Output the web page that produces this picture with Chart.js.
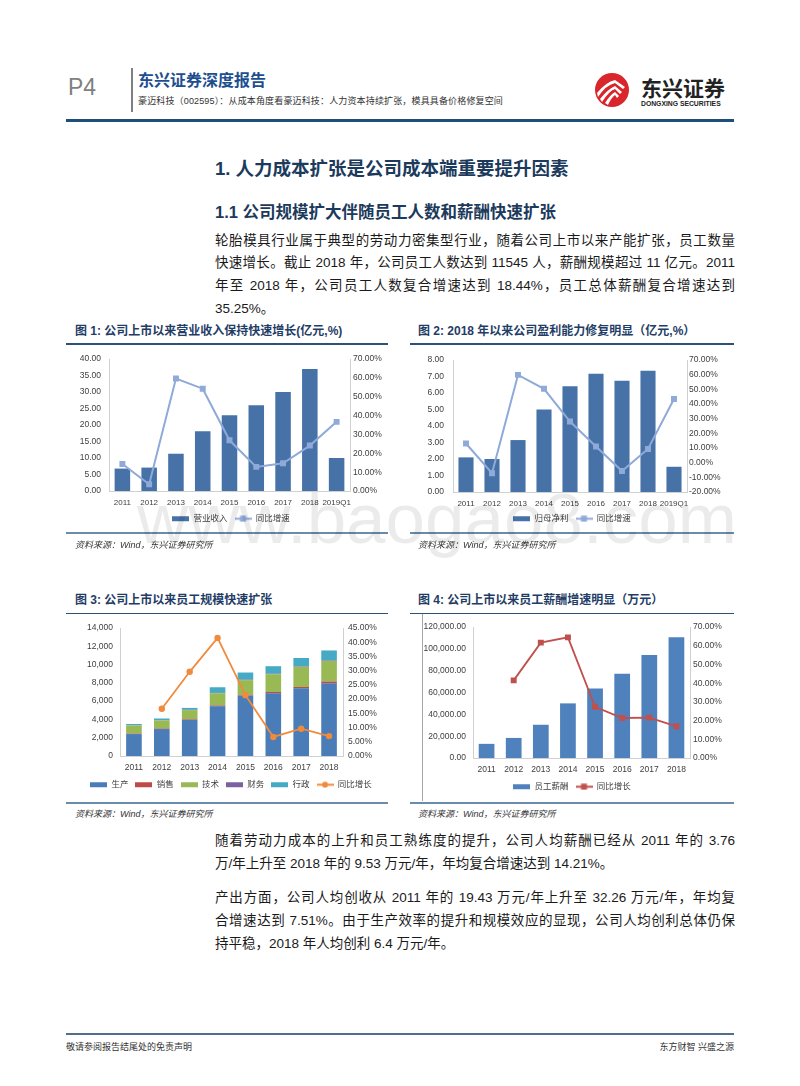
<!DOCTYPE html>
<html>
<head>
<meta charset="utf-8">
<script src="https://cdn.jsdelivr.net/npm/chart.js"></script>
<style>
body { margin: 0; background: #fff; }
#page { position: relative; width: 800px; height: 1086px; overflow: hidden;
        font-family: "Liberation Sans", "Noto Sans CJK SC", sans-serif; color: #1a1a1a; }
.a { position: absolute; white-space: nowrap; }
.ln { position: absolute; }
.p { position: absolute; left: 215px; width: 520px; font-size: 13.5px; height: 23px; line-height: 23px; overflow: hidden; }
.j { text-align: justify; text-align-last: justify; }
.cap { font-size: 12px; font-weight: bold; color: #1f3d66; line-height: 12px; }
.src { font-size: 9px; font-style: italic; color: #333; line-height: 9px; }
canvas { position: absolute; }
</style>
</head>
<body>
<div id="page">
  <!-- header -->
  <div class="a" style="left:68px;top:76px;font-size:23px;line-height:23px;color:#7f7f7f;">P4</div>
  <div class="ln" style="left:131px;top:68px;width:1.5px;height:44px;background:#808080;"></div>
  <div class="a" style="left:138px;top:73px;font-size:16px;line-height:16px;font-weight:bold;color:#1d4f8f;">东兴证券深度报告</div>
  <div class="a" style="left:138px;top:96.5px;font-size:9px;line-height:9px;color:#333;letter-spacing:0.15px;">豪迈科技（002595）：从成本角度看豪迈科技：人力资本持续扩张，模具具备价格修复空间</div>
  <svg class="a" style="left:594px;top:72px" width="36" height="36" viewBox="0 0 36 36">
    <circle cx="18" cy="18" r="17" fill="#d8262c"/>
    <path d="M3 21 Q12 10 21 8 L31 15 L29 17 L21 11 Q12 13 4 25 Z" fill="#fff"/>
    <path d="M6 27 Q14 17 21 14 L28 20 L26 22 L21 17 Q15 19 8 30 Z" fill="#fff"/>
    <path d="M11 31 Q16 23 21 20 L25 24 L23 26 L21 23 Q17 26 14 33 Z" fill="#fff"/>
  </svg>
  <div class="a" style="left:641px;top:78px;font-size:21px;line-height:21px;font-weight:bold;color:#222;">东兴证券</div>
  <div class="a" style="left:641px;top:100px;font-size:6.8px;line-height:7px;font-weight:bold;color:#222;">DONGXING SECURITIES</div>
  <div class="ln" style="left:66px;top:119px;width:668px;height:3px;background:#1f4e79;"></div>

  <!-- headings and text -->
  <div class="a" style="left:215px;top:158.5px;font-size:18.5px;line-height:20px;font-weight:bold;color:#1c3a5c;">1. 人力成本扩张是公司成本端重要提升因素</div>
  <div class="a" style="left:215px;top:202.5px;font-size:16.5px;line-height:18px;font-weight:bold;color:#1c3a5c;">1.1 公司规模扩大伴随员工人数和薪酬快速扩张</div>

  <div class="p j" style="top:228.5px;">轮胎模具行业属于典型的劳动力密集型行业，随着公司上市以来产能扩张，员工数量</div>
  <div class="p j" style="top:251.2px;">快速增长。截止 2018 年，公司员工人数达到 11545 人，薪酬规模超过 11 亿元。2011</div>
  <div class="p j" style="top:273.9px;">年至 2018 年，公司员工人数复合增速达到 18.44%，员工总体薪酬复合增速达到</div>
  <div class="p" style="top:296.6px;">35.25%。</div>

  <!-- figure 1 / 2 frames -->
  <div class="a cap" style="left:75px;top:325px;">图 1: 公司上市以来营业收入保持快速增长(亿元,%)</div>
  <div class="a cap" style="left:418px;top:325px;">图 2: 2018 年以来公司盈利能力修复明显（亿元,%）</div>
  <div class="ln" style="left:66px;top:343px;width:322px;height:1.5px;background:#2f5077;"></div>
  <div class="ln" style="left:410px;top:343px;width:324px;height:1.5px;background:#2f5077;"></div>
  <canvas id="c1" width="322" height="187" style="left:70px;top:346px;"></canvas>
  <canvas id="c2" width="324" height="187" style="left:410px;top:346px;"></canvas>
  <div class="ln" style="left:66px;top:532px;width:322px;height:2px;background:#6b8bab;"></div>
  <div class="ln" style="left:410px;top:532px;width:324px;height:2px;background:#6b8bab;"></div>
  <div class="a src" style="left:75px;top:540.5px;">资料来源：Wind，东兴证券研究所</div>
  <div class="a src" style="left:418px;top:540.5px;">资料来源：Wind，东兴证券研究所</div>

  <!-- figure 3 / 4 frames -->
  <div class="a cap" style="left:75px;top:594px;">图 3: 公司上市以来员工规模快速扩张</div>
  <div class="a cap" style="left:418px;top:594px;">图 4: 公司上市以来员工薪酬增速明显（万元）</div>
  <div class="ln" style="left:66px;top:612.5px;width:322px;height:1.5px;background:#2f5077;"></div>
  <div class="ln" style="left:410px;top:612.5px;width:324px;height:1.5px;background:#2f5077;"></div>
  <div class="ln" style="left:421.5px;top:614px;width:1px;height:187px;background:#a6a6a6;"></div>
  <canvas id="c3" width="322" height="184" style="left:70px;top:615px;"></canvas>
  <canvas id="c4" width="324" height="186" style="left:410px;top:615px;"></canvas>
  <div class="ln" style="left:66px;top:801.5px;width:322px;height:2px;background:#6b8bab;"></div>
  <div class="ln" style="left:410px;top:801.5px;width:324px;height:2px;background:#6b8bab;"></div>
  <div class="a src" style="left:75px;top:809.5px;">资料来源：Wind，东兴证券研究所</div>
  <div class="a src" style="left:418px;top:809.5px;">资料来源：Wind，东兴证券研究所</div>

  <div class="p j" style="top:828.5px;">随着劳动力成本的上升和员工熟练度的提升，公司人均薪酬已经从 2011 年的 3.76</div>
  <div class="p" style="top:851.5px;">万/年上升至 2018 年的 9.53 万元/年，年均复合增速达到 14.21%。</div>
  <div class="p j" style="top:885.5px;">产出方面，公司人均创收从 2011 年的 19.43 万元/年上升至 32.26 万元/年，年均复</div>
  <div class="p j" style="top:908.5px;">合增速达到 7.51%。由于生产效率的提升和规模效应的显现，公司人均创利总体仍保</div>
  <div class="p" style="top:931.5px;">持平稳，2018 年人均创利 6.4 万元/年。</div>

  <!-- footer -->
  <div class="ln" style="left:66px;top:1033px;width:668px;height:2px;background:#4f6f8f;"></div>
  <div class="a" style="left:66px;top:1042.5px;font-size:9px;line-height:9px;color:#333;">敬请参阅报告结尾处的免责声明</div>
  <div class="a" style="right:66px;top:1042.5px;font-size:9px;line-height:9px;color:#333;">东方财智 兴盛之源</div>

  <!-- watermark -->
  <div class="a" style="left:137px;top:486px;font-size:71px;line-height:66px;color:rgba(0,0,0,0.08);pointer-events:none;z-index:5;">www.baogao8.com</div>
</div>

<script>
// figure 1 / 2
const years9 = ['2011', '2012', '2013', '2014', '2015', '2016', '2017', '2018', '2019Q1'];
const revenue = [6.8, 7.1, 11.3, 18.1, 23.0, 26.0, 30.0, 37.0, 10.0];
const revenueYoY = [14.3, 3.6, 59.7, 54.3, 26.9, 12.8, 14.7, 24.1, 36.7];
const netProfit = [2.1, 2.0, 3.15, 5.0, 6.42, 7.17, 6.74, 7.36, 1.53];
const netProfitYoY = [13.1, -7.2, 59.9, 50.4, 28.1, 11.1, -5.7, 9.4, 43.4];

// figure 3 / 4
const years8 = ['2011', '2012', '2013', '2014', '2015', '2016', '2017', '2018'];
const staffProd = [2400, 2950, 3950, 5450, 6600, 6850, 7400, 7950];
const staffSales = [50, 60, 70, 80, 100, 150, 150, 200];
const staffTech = [900, 880, 1000, 1330, 1600, 1950, 2200, 2250];
const staffFin = [20, 30, 40, 40, 50, 50, 50, 60];
const staffAdmin = [130, 180, 200, 620, 780, 820, 920, 1085];
const staffYoY = [null, 16.6, 29.6, 41.5, 21.4, 6.7, 9.6, 7.0];
const salary = [12970, 18400, 30470, 50080, 63650, 77230, 94420, 110710];
const salaryYoY = [null, 41.5, 61.7, 64.5, 27.4, 21.4, 21.6, 16.9];

Chart.defaults.font.family = '"Liberation Sans", "Noto Sans CJK SC", sans-serif';
Chart.defaults.font.size = 8.5;
Chart.defaults.color = '#595959';

function makeIcon(kind, color, marker) {
    const c = document.createElement('canvas');
    c.width = 17;
    c.height = 7;
    const g = c.getContext('2d');
    g.fillStyle = color;
    g.strokeStyle = color;
    if (kind === 'bar') {
        g.fillRect(0, 1, 17, 5);
    } else {
        g.lineWidth = 2;
        g.beginPath();
        g.moveTo(0, 3.5);
        g.lineTo(17, 3.5);
        g.stroke();
        if (marker === 'rect') {
            g.fillRect(5.5, 0.5, 6, 6);
        } else {
            g.beginPath();
            g.arc(8.5, 3.5, 3, 0, Math.PI * 2);
            g.fill();
        }
    }
    return c;
}

function legendLabels(icons) {
    return function(chart) {
        const items = Chart.defaults.plugins.legend.labels.generateLabels(chart);
        items.forEach(it => { it.pointStyle = icons[it.text]; });
        return items.sort((a, b) => a.datasetIndex - b.datasetIndex);
    };
}

const pct = v => v.toFixed(2) + '%';

function axes(o) {
    const border = { display: true, color: '#d0d0d0' };
    return {
        x: {
            stacked: !!o.stacked,
            grid: { display: false, drawTicks: false },
            border: border,
            ticks: { padding: 7, maxRotation: 0, autoSkip: false, color: '#404040', font: { size: o.xf || 8.5 } },
            afterFit: s => { s.height = o.xh; }
        },
        y: {
            position: 'left',
            stacked: !!o.stacked,
            min: o.y[0], max: o.y[1],
            ticks: { stepSize: o.y[2], padding: o.lp, callback: o.lf, color: '#404040' },
            grid: { display: false, drawTicks: false },
            border: border,
            afterFit: s => { s.width = o.lw; }
        },
        y1: {
            position: 'right',
            min: o.r[0], max: o.r[1],
            ticks: { stepSize: o.r[2], padding: o.rp, callback: pct, color: '#404040' },
            grid: { display: false, drawTicks: false },
            border: border,
            afterFit: s => { s.width = o.rw; }
        }
    };
}

function options(icons, top, scales) {
    return {
        responsive: false,
        animation: false,
        layout: { padding: { top: top, left: 0, right: 0, bottom: 0 } },
        plugins: {
            legend: {
                position: 'bottom',
                labels: {
                    usePointStyle: true,
                    pointStyleWidth: 17,
                    padding: 7,
                    color: '#404040',
                    font: { size: 8.5 },
                    generateLabels: legendLabels(icons)
                }
            },
            tooltip: { enabled: false }
        },
        scales: scales
    };
}

function lineSet(label, data, color, style, radius, width) {
    return {
        type: 'line', label: label, data: data, yAxisID: 'y1', order: 0,
        borderColor: color, backgroundColor: color, borderWidth: width,
        pointStyle: style, pointRadius: radius, pointBackgroundColor: color,
        pointBorderColor: color, pointBorderWidth: 0, tension: 0
    };
}

function barSet(label, data, color) {
    return {
        type: 'bar', label: label, data: data, yAxisID: 'y', order: 1,
        backgroundColor: color, borderWidth: 0,
        barPercentage: 0.58, categoryPercentage: 1
    };
}

// 图1
const blueBar = '#4672a8';
const lightLine = '#8faad8';
new Chart(document.getElementById('c1'), {
    data: {
        labels: years9,
        datasets: [
            barSet('营业收入', revenue, blueBar),
            lineSet('同比增速', revenueYoY, lightLine, 'rect', 4.2, 2)
        ]
    },
    options: options(
        { '营业收入': makeIcon('bar', blueBar), '同比增速': makeIcon('line', lightLine, 'rect') },
        10,
        axes({ xh: 16.5, xf: 8, y: [0, 40, 5], lf: v => v.toFixed(2), lp: 8, lw: 39, r: [0, 70, 10], rp: 3, rw: 42 })
    )
});

// 图2
new Chart(document.getElementById('c2'), {
    data: {
        labels: years9,
        datasets: [
            barSet('归母净利', netProfit, blueBar),
            lineSet('同比增速', netProfitYoY, lightLine, 'rect', 4.2, 2)
        ]
    },
    options: options(
        { '归母净利': makeIcon('bar', blueBar), '同比增速': makeIcon('line', lightLine, 'rect') },
        10,
        axes({ xh: 15.5, xf: 8, y: [0, 8, 1], lf: v => v.toFixed(2), lp: 9, lw: 43, r: [-20, 70, 10], rp: 2, rw: 47 })
    )
});

// 图3
const c3colors = { prod: '#4a7cb8', sales: '#be4b48', tech: '#98b954', fin: '#7d60a0', admin: '#46aac5', line: '#f08a3c' };
const stackBar = (label, data, color) => Object.assign(barSet(label, data, color), { stack: 'staff', barPercentage: 0.56 });
new Chart(document.getElementById('c3'), {
    data: {
        labels: years8,
        datasets: [
            stackBar('生产', staffProd, c3colors.prod),
            stackBar('销售', staffSales, c3colors.sales),
            stackBar('技术', staffTech, c3colors.tech),
            stackBar('财务', staffFin, c3colors.fin),
            stackBar('行政', staffAdmin, c3colors.admin),
            lineSet('同比增长', staffYoY, c3colors.line, 'circle', 3.2, 1.8)
        ]
    },
    options: options(
        {
            '生产': makeIcon('bar', c3colors.prod),
            '销售': makeIcon('bar', c3colors.sales),
            '技术': makeIcon('bar', c3colors.tech),
            '财务': makeIcon('bar', c3colors.fin),
            '行政': makeIcon('bar', c3colors.admin),
            '同比增长': makeIcon('line', c3colors.line, 'circle')
        },
        13,
        axes({ stacked: true, xh: 17.5, y: [0, 14000, 2000], lf: v => v.toLocaleString('en-US'), lp: 7, lw: 50, r: [0, 45, 5], rp: 5, rw: 49 })
    )
});

// 图4
const salaryBar = '#4f81bd';
const salaryLine = '#c0504d';
new Chart(document.getElementById('c4'), {
    data: {
        labels: years8,
        datasets: [
            barSet('员工薪酬', salary, salaryBar),
            lineSet('同比增长', salaryYoY, salaryLine, 'rect', 4.2, 1.8)
        ]
    },
    options: options(
        { '员工薪酬': makeIcon('bar', salaryBar), '同比增长': makeIcon('line', salaryLine, 'rect') },
        10,
        axes({ xh: 17.5, y: [0, 120000, 20000], lf: v => v.toLocaleString('en-US', { minimumFractionDigits: 2 }), lp: 7, lw: 63, r: [0, 70, 10], rp: 3, rw: 44 })
    )
});
</script>
</body>
</html>
